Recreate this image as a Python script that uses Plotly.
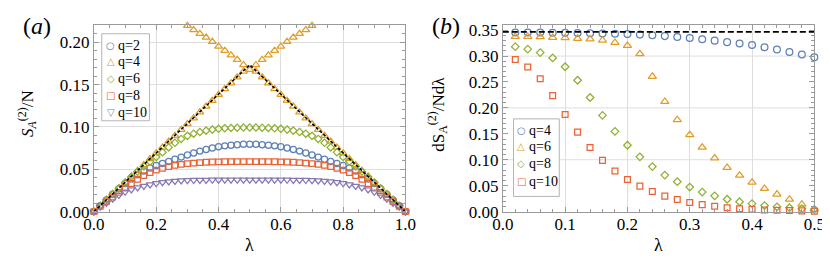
import plotly.graph_objects as go

# ---------------- data: panel (a) ----------------
lam_left = [0.00, 0.02, 0.04, 0.06, 0.08, 0.10, 0.12, 0.14, 0.16, 0.18, 0.20, 0.22, 0.24, 0.26, 0.28,
            0.30, 0.32, 0.34, 0.36, 0.38, 0.40, 0.42, 0.44, 0.46, 0.48, 0.50, 0.52, 0.54, 0.56, 0.58,
            0.60, 0.62, 0.64, 0.66, 0.68, 0.70, 0.72, 0.74, 0.76, 0.78, 0.80, 0.82, 0.84, 0.86, 0.88,
            0.90, 0.92, 0.94, 0.96, 0.98, 1.00]

q2_left = [0.0, 0.0069, 0.0138, 0.0205, 0.0270, 0.0330, 0.0385, 0.0435, 0.0478, 0.0514, 0.0544, 0.0568,
           0.0592, 0.0617, 0.0643, 0.0668, 0.0692, 0.0714, 0.0734, 0.0751, 0.0765, 0.0776, 0.0784, 0.0790,
           0.0794, 0.0795, 0.0794, 0.0790, 0.0784, 0.0776, 0.0765, 0.0751, 0.0734, 0.0714, 0.0692, 0.0668,
           0.0643, 0.0617, 0.0592, 0.0568, 0.0544, 0.0514, 0.0478, 0.0435, 0.0385, 0.0330, 0.0270, 0.0205,
           0.0138, 0.0069, 0.0]

q6_left = [0.0, 0.0069, 0.0139, 0.0207, 0.0276, 0.0344, 0.0410, 0.0473, 0.0533, 0.0590, 0.0645, 0.0700,
           0.0758, 0.0812, 0.0858, 0.0894, 0.0920, 0.0940, 0.0956, 0.0968, 0.0977, 0.0984, 0.0988, 0.0991,
           0.0993, 0.0993, 0.0993, 0.0991, 0.0988, 0.0984, 0.0977, 0.0968, 0.0956, 0.0940, 0.0920, 0.0894,
           0.0858, 0.0812, 0.0758, 0.0700, 0.0645, 0.0590, 0.0533, 0.0473, 0.0410, 0.0344, 0.0276, 0.0207,
           0.0139, 0.0069, 0.0]

q8_left = [0.0, 0.0062, 0.0118, 0.0170, 0.0226, 0.0278, 0.0332, 0.0382, 0.0425, 0.0460, 0.0489, 0.0512,
           0.0530, 0.0545, 0.0557, 0.0566, 0.0573, 0.0578, 0.0582, 0.0585, 0.0587, 0.0588, 0.0589, 0.0590,
           0.0590, 0.0590, 0.0590, 0.0590, 0.0589, 0.0588, 0.0587, 0.0585, 0.0582, 0.0578, 0.0573, 0.0566,
           0.0557, 0.0545, 0.0530, 0.0512, 0.0489, 0.0460, 0.0425, 0.0382, 0.0332, 0.0278, 0.0226, 0.0170,
           0.0118, 0.0062, 0.0]

q10_left = [0.0, 0.0055, 0.0100, 0.0150, 0.0194, 0.0232, 0.0260, 0.0283, 0.0302, 0.0319, 0.0333, 0.0345,
            0.0354, 0.0361, 0.0366, 0.0369, 0.0371, 0.0372, 0.0373, 0.0374, 0.0375, 0.0375, 0.0375, 0.0375,
            0.0375, 0.0375, 0.0375, 0.0375, 0.0375, 0.0375, 0.0375, 0.0374, 0.0373, 0.0372, 0.0371, 0.0369,
            0.0366, 0.0361, 0.0354, 0.0345, 0.0333, 0.0319, 0.0302, 0.0283, 0.0260, 0.0232, 0.0194, 0.0150,
            0.0100, 0.0055, 0.0]

# q=4 has two branches
lam_q4_low = [0.00, 0.02, 0.04, 0.06, 0.08, 0.10, 0.12, 0.14, 0.16, 0.18, 0.20, 0.22, 0.24, 0.26, 0.28,
              0.30, 0.32, 0.34, 0.36, 0.38, 0.40, 0.42, 0.44, 0.46, 0.48,
              0.52, 0.54, 0.56, 0.58, 0.60, 0.62, 0.64, 0.66, 0.68, 0.70, 0.72, 0.74, 0.76, 0.78, 0.80,
              0.82, 0.84, 0.86, 0.88, 0.90, 0.92, 0.94, 0.96, 0.98, 1.00]
q4_low = [0.0, 0.0069, 0.0138, 0.0207, 0.0276, 0.0345, 0.0414, 0.0483, 0.0552, 0.0621, 0.0690, 0.0759,
          0.0828, 0.0897, 0.0966, 0.1035, 0.1104, 0.1173, 0.1242, 0.1311, 0.1380, 0.1449, 0.1518, 0.1587,
          0.1656,
          0.1656, 0.1587, 0.1518, 0.1449, 0.1380, 0.1311, 0.1242, 0.1173, 0.1104, 0.1035, 0.0966, 0.0897,
          0.0828, 0.0759, 0.0690, 0.0621, 0.0552, 0.0483, 0.0414, 0.0345, 0.0276, 0.0207, 0.0138, 0.0069,
          0.0]
lam_q4_high = [0.30, 0.32, 0.34, 0.36, 0.38, 0.40, 0.42, 0.44, 0.46, 0.48, 0.50,
               0.52, 0.54, 0.56, 0.58, 0.60, 0.62, 0.64, 0.66, 0.68, 0.70]
q4_high = [0.2195, 0.2146, 0.2101, 0.2056, 0.2007, 0.1951, 0.1902, 0.1846, 0.1793, 0.1733, 0.1677,
           0.1733, 0.1793, 0.1846, 0.1902, 0.1951, 0.2007, 0.2056, 0.2101, 0.2146, 0.2195]

bound_left_x = [0.0, 0.5, 1.0]
bound_left_y = [0.0, 0.1733, 0.0]

# ---------------- data: panel (b) ----------------
lam_right = [0.02, 0.04, 0.06, 0.08, 0.10, 0.12, 0.14, 0.16, 0.18, 0.20, 0.22, 0.24, 0.26,
             0.28, 0.30, 0.32, 0.34, 0.36, 0.38, 0.40, 0.42, 0.44, 0.46, 0.48, 0.50]
q4_right = [0.3456, 0.3455, 0.3454, 0.3452, 0.3449, 0.3446, 0.3442, 0.3437, 0.3431, 0.3424, 0.3414,
            0.3401, 0.3385, 0.3368, 0.3347, 0.3323, 0.3298, 0.3269, 0.3243, 0.3213, 0.3172, 0.3128,
            0.3080, 0.3030, 0.2976]
q6_right = [0.3376, 0.3376, 0.3370, 0.3358, 0.3352, 0.3340, 0.3328, 0.3304, 0.3261, 0.3201, 0.3043,
            0.2606, 0.2122, 0.1770, 0.1479, 0.1237, 0.1031, 0.0849, 0.0697, 0.0564, 0.0443, 0.0334,
            0.0237, 0.0140, 0.0043]
q8_right = [0.3182, 0.3134, 0.3067, 0.2964, 0.2794, 0.2534, 0.2201, 0.1855, 0.1546, 0.1279, 0.1055,
            0.0867, 0.0704, 0.0576, 0.0473, 0.0376, 0.0304, 0.0237, 0.0189, 0.0152, 0.0116, 0.0092,
            0.0074, 0.0056, 0.0043]
q10_right = [0.2934, 0.2788, 0.2564, 0.2237, 0.1873, 0.1533, 0.1237, 0.0988, 0.0782, 0.0618, 0.0491,
             0.0388, 0.0298, 0.0231, 0.0176, 0.0134, 0.0104, 0.0074, 0.0056, 0.0043, 0.0031, 0.0025,
             0.0019, 0.0013, 0.0007]

bound_right_x = [0.0, 0.5]
bound_right_y = [0.3466, 0.3466]
right_grid = [0.1, 0.2, 0.3]

left_x_ticks = [0.0, 0.2, 0.4, 0.6, 0.8, 1.0]
left_y_ticks = [0.00, 0.05, 0.10, 0.15, 0.20]
right_x_ticks = [0.0, 0.1, 0.2, 0.3, 0.4, 0.5]
right_y_ticks = [0.00, 0.05, 0.10, 0.15, 0.20, 0.25, 0.30, 0.35]

# ---------------- styling ----------------
BLUE = "#5E81B5"
ORANGE = "#E19C24"
GREEN = "#8FB032"
RED = "#EB6235"
PURPLE = "#8778B3"
SERIF = "Liberation Serif"
FRAME = "#9a9a9a"
GRID = "#dedede"

W, H = 830, 258
def px(x):
    return x / W
def py(y):
    return (H - y) / H

fig = go.Figure()

def add_pts(x, y, sym, color, size, xa, ya, name):
    fig.add_trace(go.Scatter(
        x=x, y=y, mode="markers", name=name, showlegend=False,
        xaxis=xa, yaxis=ya, cliponaxis=False,
        marker=dict(symbol=sym, size=size, color=color, line=dict(color=color, width=1.25)),
    ))

# panel (a)
add_pts(lam_left, q2_left, "circle-open", BLUE, 6.2, "x", "y", "q=2")
add_pts(lam_q4_low, q4_low, "triangle-up-open", ORANGE, 6.8, "x", "y", "q=4")
add_pts(lam_q4_high, q4_high, "triangle-up-open", ORANGE, 6.8, "x", "y", "q=4")
add_pts(lam_left, q6_left, "diamond-open", GREEN, 5.6, "x", "y", "q=6")
add_pts(lam_left, q8_left, "square-open", RED, 5.6, "x", "y", "q=8")
add_pts(lam_left, q10_left, "triangle-down-open", PURPLE, 6.8, "x", "y", "q=10")
fig.add_trace(go.Scatter(x=bound_left_x, y=bound_left_y, mode="lines", showlegend=False,
                         line=dict(color="black", width=1.6, dash="3px,2px"), xaxis="x", yaxis="y"))

# panel (b)
add_pts(lam_right, q4_right, "circle-open", BLUE, 6.8, "x2", "y2", "q=4")
add_pts(lam_right, q6_right, "triangle-up-open", ORANGE, 7.2, "x2", "y2", "q=6")
add_pts(lam_right, q8_right, "diamond-open", GREEN, 5.8, "x2", "y2", "q=8")
add_pts(lam_right, q10_right, "square-open", RED, 5.8, "x2", "y2", "q=10")
fig.add_trace(go.Scatter(x=bound_right_x, y=bound_right_y, mode="lines", showlegend=False,
                         line=dict(color="black", width=1.7, dash="6px,3px"), xaxis="x2", yaxis="y2"))

xd_left = [px(77), px(397)]
xd_right = [px(497), px(817)]
yd = [py(211), py(14)]

axis_common = dict(
    showline=True, linecolor=FRAME, linewidth=1, mirror="ticks",
    ticks="inside", ticklen=5, tickcolor=FRAME, tickwidth=1,
    zeroline=False, gridcolor=GRID, gridwidth=1,
    tickfont=dict(family=SERIF, size=17, color="black"),
)

fig.update_layout(
    width=W, height=H, margin=dict(l=0, r=0, t=0, b=0),
    paper_bgcolor="white", plot_bgcolor="white", showlegend=False,
    font=dict(family=SERIF),
    xaxis=dict(domain=xd_left, range=[0, 1], anchor="y", tickvals=left_x_ticks,
               ticktext=[f"{v:.1f}" for v in left_x_ticks], showgrid=True, ticklabelstandoff=-3,
               minor=dict(dtick=0.05, ticks="inside", ticklen=3, tickcolor=FRAME, showgrid=False),
               **axis_common),
    yaxis=dict(domain=yd, range=[0, 0.2201], anchor="x", tickvals=left_y_ticks,
               ticktext=[f"{v:.2f}" for v in left_y_ticks], showgrid=True,
               minor=dict(dtick=0.01, ticks="inside", ticklen=3, tickcolor=FRAME, showgrid=False),
               **axis_common),
    xaxis2=dict(domain=xd_right, range=[0, 0.5], anchor="y2", tickvals=right_x_ticks,
                ticktext=[f"{v:.1f}" for v in right_x_ticks], showgrid=True, ticklabelstandoff=-3,
                minor=dict(dtick=0.02, ticks="inside", ticklen=3, tickcolor=FRAME, showgrid=False),
                **axis_common),
    yaxis2=dict(domain=yd, range=[0, 0.3595], anchor="x2", tickvals=right_y_ticks,
                ticktext=[f"{v:.2f}" for v in right_y_ticks], showgrid=False,
                minor=dict(dtick=0.01, ticks="inside", ticklen=3, tickcolor=FRAME, showgrid=False),
                **axis_common),
)

shapes = []
for g in right_grid:
    shapes.append(dict(type="line", xref="x2 domain", yref="y2", x0=0, x1=1, y0=g, y1=g,
                       line=dict(color=GRID, width=1), layer="below"))

annotations = []

def note(text, x, y, size, angle=0, family=SERIF, color="black", xanchor="center"):
    annotations.append(dict(text=text, x=px(x), y=py(y), xref="paper", yref="paper",
                            showarrow=False, xanchor=xanchor, yanchor="middle", textangle=angle,
                            font=dict(family=family, size=size, color=color)))

# panel labels
note("(<i>a</i>)", 19, 15, 24)
note("(<i>b</i>)", 439, 15, 24)
# axis titles
note("λ", 237, 246, 18)
note("λ", 657, 246, 18)
note("<i>S</i><sub><i>A</i></sub><sup>(2)</sup>/N", 8, 107, 17, angle=-90)
note("dS<sub>A</sub><sup>(2)</sup>/Ndλ", 430, 108, 17, angle=-90)

# hand-placed legends (compact, Mathematica style)
legend_left = [("○", BLUE, "q=2"), ("△", ORANGE, "q=4"), ("◇", GREEN, "q=6"),
               ("□", RED, "q=8"), ("▽", PURPLE, "q=10")]
legend_right = [("○", BLUE, "q=4"), ("△", ORANGE, "q=6"), ("◇", GREEN, "q=8"), ("□", RED, "q=10")]

def draw_legend(entries, box, mx, tx, ys):
    x0, y0, x1, y1 = box
    shapes.append(dict(type="rect", xref="paper", yref="paper", x0=px(x0), x1=px(x1),
                       y0=py(y1), y1=py(y0), line=dict(color="#b4b4b4", width=1),
                       fillcolor="white", layer="above"))
    for (glyph, col, label), yy in zip(entries, ys):
        note(glyph, mx, yy, 10, family="DejaVu Sans", color=col)
        note(label, tx, yy, 14, xanchor="left")

draw_legend(legend_left, (85, 23, 134, 115), 94, 100, [35, 52.5, 70.5, 88.5, 106])
draw_legend(legend_right, (508, 113, 555, 195), 516, 522, [125, 142.7, 160.7, 178.7])

fig.update_layout(shapes=shapes, annotations=annotations)

fig.write_html("out.html")
